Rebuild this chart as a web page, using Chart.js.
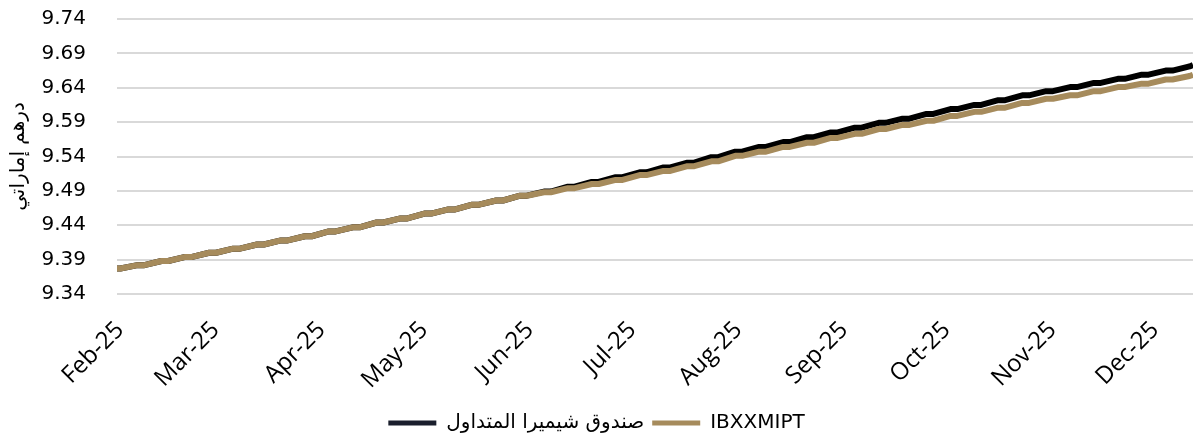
<!DOCTYPE html>
<html>
<head>
<meta charset="utf-8">
<script src="https://cdn.jsdelivr.net/npm/chart.js@4.4.0/dist/chart.umd.min.js"></script>
<style>
  html, body { margin: 0; padding: 0; background: #ffffff; }
  #wrap { width: 1195px; height: 439px; overflow: hidden; }
</style>
</head>
<body>
<div id="wrap"><canvas id="c" width="1195" height="439"></canvas></div>
<script>
// ---- data (weekly Friday values, held over the weekend) ----
const startDate = '2025-02-01';
const dates = [
  '2025-02-01','2025-02-02','2025-02-07','2025-02-09','2025-02-14','2025-02-16','2025-02-21','2025-02-23','2025-02-28','2025-03-02',
  '2025-03-07','2025-03-09','2025-03-14','2025-03-16','2025-03-21','2025-03-23','2025-03-28','2025-03-30',
  '2025-04-04','2025-04-06','2025-04-11','2025-04-13','2025-04-18','2025-04-20','2025-04-25','2025-04-27',
  '2025-05-02','2025-05-04','2025-05-09','2025-05-11','2025-05-16','2025-05-18','2025-05-23','2025-05-25','2025-05-30','2025-06-01',
  '2025-06-06','2025-06-08','2025-06-13','2025-06-15','2025-06-20','2025-06-22','2025-06-27','2025-06-29',
  '2025-07-04','2025-07-06','2025-07-11','2025-07-13','2025-07-18','2025-07-20','2025-07-25','2025-07-27',
  '2025-08-01','2025-08-03','2025-08-08','2025-08-10','2025-08-15','2025-08-17','2025-08-22','2025-08-24','2025-08-29','2025-08-31',
  '2025-09-05','2025-09-07','2025-09-12','2025-09-14','2025-09-19','2025-09-21','2025-09-26','2025-09-28',
  '2025-10-03','2025-10-05','2025-10-10','2025-10-12','2025-10-17','2025-10-19','2025-10-24','2025-10-26','2025-10-31','2025-11-02',
  '2025-11-07','2025-11-09','2025-11-14','2025-11-16','2025-11-21','2025-11-23','2025-11-28','2025-11-30',
  '2025-12-05','2025-12-07','2025-12-12','2025-12-13'
];
const fundValues = [
  9.377, 9.377, 9.382, 9.382, 9.388, 9.388, 9.394, 9.394, 9.400, 9.400,
  9.406, 9.406, 9.412, 9.412, 9.418, 9.418, 9.424, 9.424,
  9.431, 9.431, 9.437, 9.437, 9.444, 9.444, 9.450, 9.450,
  9.457, 9.457, 9.463, 9.463, 9.470, 9.470, 9.476, 9.476, 9.483, 9.483,
  9.489, 9.489, 9.496, 9.496, 9.503, 9.503, 9.510, 9.510,
  9.517, 9.517, 9.524, 9.524, 9.531, 9.531, 9.539, 9.539,
  9.547, 9.547, 9.554, 9.554, 9.561, 9.561, 9.568, 9.568, 9.575, 9.575,
  9.582, 9.582, 9.589, 9.589, 9.595, 9.595, 9.602, 9.602,
  9.609, 9.609, 9.615, 9.615, 9.622, 9.622, 9.629, 9.629, 9.635, 9.635,
  9.641, 9.641, 9.647, 9.647, 9.653, 9.653, 9.659, 9.659,
  9.665, 9.665, 9.671, 9.673
];
const indexValues = [
  9.377, 9.377, 9.382, 9.382, 9.388, 9.388, 9.394, 9.394, 9.400, 9.400,
  9.406, 9.406, 9.412, 9.412, 9.418, 9.418, 9.424, 9.424,
  9.431, 9.431, 9.437, 9.437, 9.444, 9.444, 9.450, 9.450,
  9.457, 9.457, 9.463, 9.463, 9.470, 9.470, 9.476, 9.476, 9.483, 9.483,
  9.488, 9.488, 9.494, 9.494, 9.500, 9.500, 9.506, 9.506,
  9.513, 9.513, 9.519, 9.519, 9.526, 9.526, 9.533, 9.533,
  9.541, 9.541, 9.547, 9.547, 9.554, 9.554, 9.560, 9.560, 9.567, 9.567,
  9.573, 9.573, 9.580, 9.580, 9.586, 9.586, 9.592, 9.592,
  9.599, 9.599, 9.605, 9.605, 9.611, 9.611, 9.618, 9.618, 9.624, 9.624,
  9.629, 9.629, 9.635, 9.635, 9.641, 9.641, 9.646, 9.646,
  9.652, 9.652, 9.657, 9.659
];
const monthTickDates = ['2025-02-01','2025-03-01','2025-04-01','2025-05-01','2025-06-01','2025-07-01',
  '2025-08-01','2025-09-01','2025-10-01','2025-11-01','2025-12-01'];
const monthLabels = ['Feb-25','Mar-25','Apr-25','May-25','Jun-25','Jul-25','Aug-25','Sep-25','Oct-25','Nov-25','Dec-25'];
const yTickValues = [9.34, 9.39, 9.44, 9.49, 9.54, 9.59, 9.64, 9.69, 9.74];
const fundName = 'صندوق شيميرا المتداول';
const indexName = 'IBXXMIPT';
const yTitle = 'درهم إماراتي';

// ---- helpers ----
const t0 = Date.parse(startDate + 'T00:00:00Z');
const dayIndex = s => (Date.parse(s + 'T00:00:00Z') - t0) / 86400000;
const xDays = dates.map(dayIndex);
const monthDays = monthTickDates.map(dayIndex);
const toPoints = vals => vals.map((v, i) => ({ x: xDays[i], y: v }));

const FUND_COLOR = '#000000';
const INDEX_COLOR = '#a68b5c';

new Chart(document.getElementById('c'), {
  type: 'line',
  data: {
    datasets: [
      { label: indexName, data: toPoints(indexValues), borderColor: INDEX_COLOR, backgroundColor: INDEX_COLOR,
        borderWidth: 6, pointRadius: 0, tension: 0, borderJoinStyle: 'round' },
      { label: fundName, data: toPoints(fundValues), borderColor: FUND_COLOR, backgroundColor: '#1a1e2c',
        borderWidth: 6, pointRadius: 0, tension: 0, borderJoinStyle: 'round' }
    ]
  },
  options: {
    responsive: false,
    animation: false,
    devicePixelRatio: 1,
    layout: { padding: { left: 0, right: 2, top: 19, bottom: -4 } },
    plugins: {
      tooltip: { enabled: false },
      legend: {
        position: 'bottom',
        reverse: true,
        labels: {
          font: { family: 'DejaVu Sans', size: 20 },
          color: '#000000',
          boxWidth: 48,
          boxHeight: 5,
          padding: 8,
          generateLabels: chart => Chart.defaults.plugins.legend.labels.generateLabels(chart)
            .map(it => Object.assign(it, { lineWidth: 0, strokeStyle: 'rgba(0,0,0,0)' }))
        }
      }
    },
    scales: {
      x: {
        type: 'linear',
        min: 0,
        max: dayIndex('2025-12-13'),
        afterBuildTicks: axis => { axis.ticks = monthDays.map(v => ({ value: v })); },
        afterFit: scale => { scale.height = 111; scale.paddingLeft = 0; scale.paddingRight = 0; },
        grid: { display: false, drawTicks: false },
        border: { display: false },
        ticks: {
          autoSkip: false,
          minRotation: 45,
          maxRotation: 45,
          padding: 22,
          labelOffset: 3,
          color: '#000000',
          font: { family: 'Open Sans', size: 24 },
          callback: (v, i) => monthLabels[i]
        }
      },
      y: {
        min: 9.34,
        max: 9.74,
        afterBuildTicks: axis => { axis.ticks = yTickValues.map(v => ({ value: v })); },
        afterFit: scale => { scale.width = 117; scale.paddingTop = 0; scale.paddingBottom = 0; },
        grid: { color: '#d9d9d9', lineWidth: 2, drawTicks: false },
        border: { display: false },
        ticks: {
          padding: 31,
          color: '#000000',
          font: { family: 'DejaVu Sans', size: 20 },
          callback: v => Number(v).toFixed(2)
        },
        title: {
          display: true,
          text: yTitle,
          color: '#000000',
          font: { family: 'DejaVu Sans', size: 20 },
          padding: { top: 7, bottom: 0 }
        }
      }
    }
  }
});
</script>
</body>
</html>
